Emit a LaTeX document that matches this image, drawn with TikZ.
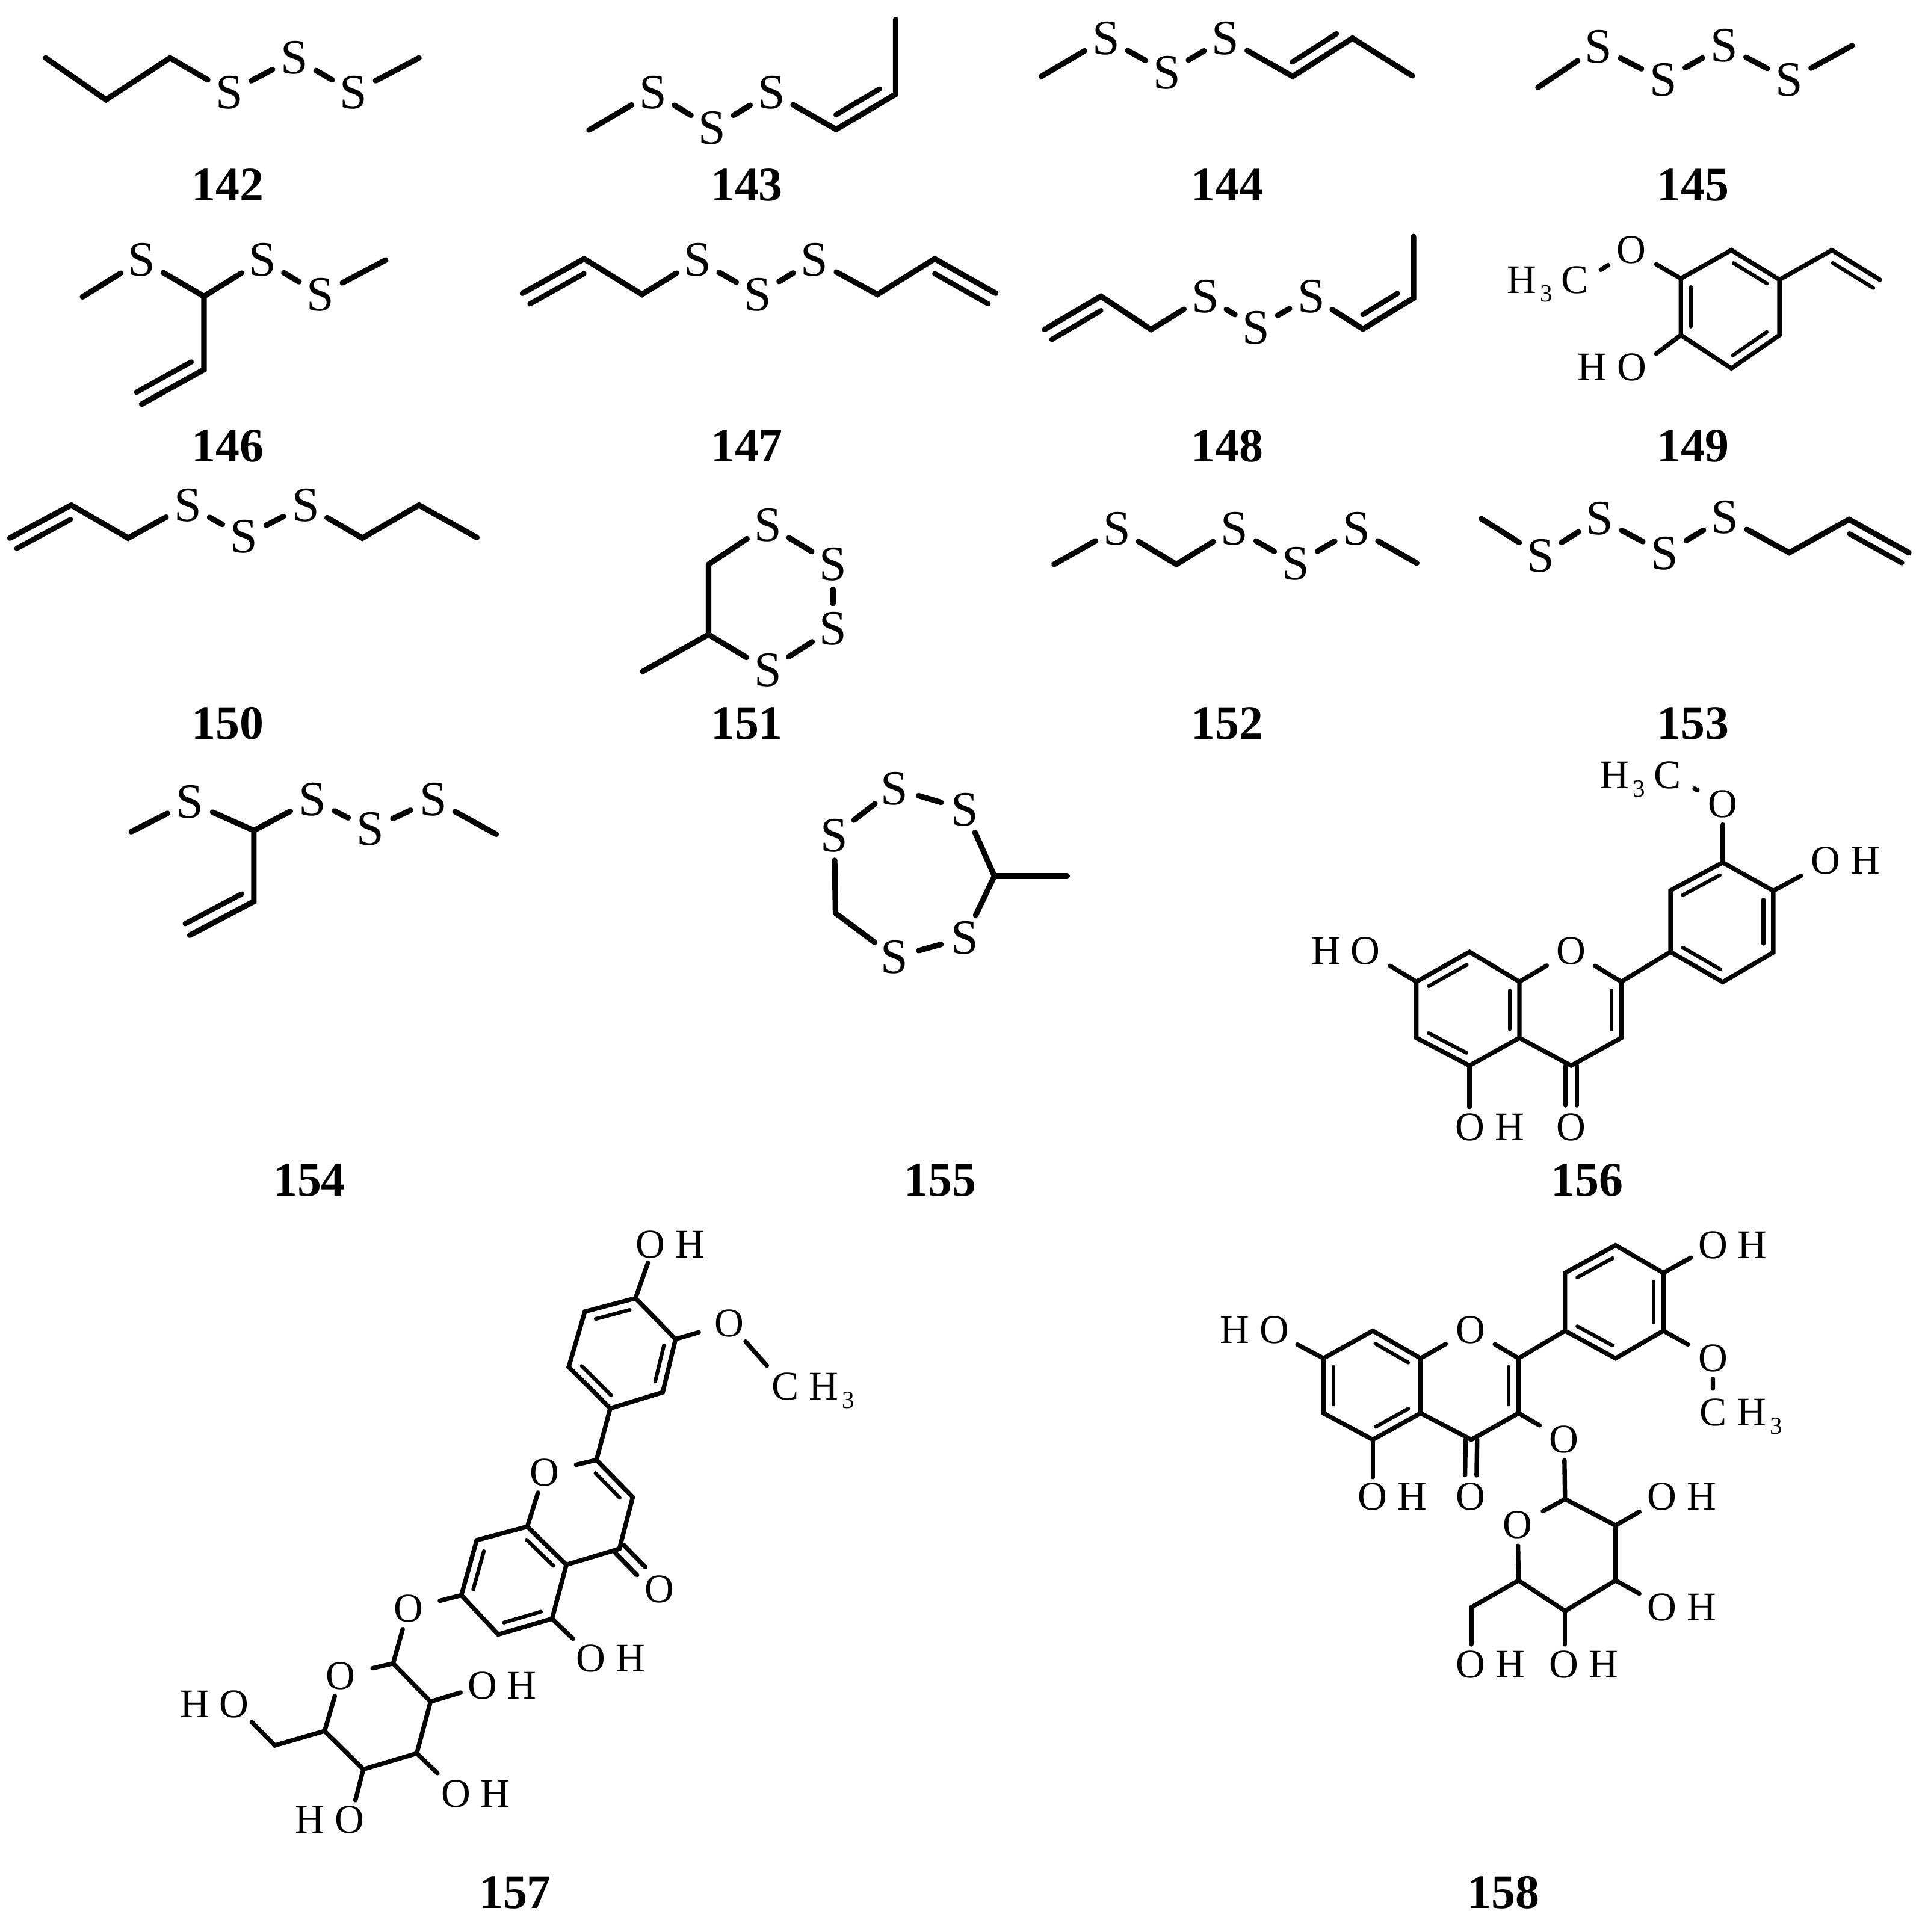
\documentclass[tikz,border=0pt]{standalone}
\usepackage{fontspec}
\setmainfont{Liberation Serif}
\usetikzlibrary{calc,shapes.geometric}
\tikzset{
  bond/.style={line width=4.5pt,line cap=round},
  ringbond/.style={line width=3.6pt,line cap=round},
  inchain/.style={line width=4.2pt,line cap=round,shorten <=6pt,shorten >=9pt},
  invinyl/.style={line width=4.2pt,line cap=round,shorten <=6pt,shorten >=1pt},
  inring/.style={line width=3pt,line cap=round,shorten <=7pt,shorten >=7pt},
  sulfur/.style={circle,inner sep=0pt,minimum size=40pt,font=\fontsize{40}{44}\selectfont},
  oxygen/.style={ellipse,inner sep=0pt,minimum width=55pt,minimum height=33pt,font=\fontsize{33}{36}\selectfont},
  group/.style={inner sep=0pt,font=\fontsize{33}{36}\selectfont},
  num/.style={inner sep=0pt,font=\fontsize{39}{42}\selectfont\bfseries}
}
\newcommand{\inbond}[4][inring]{\draw[#1] ($(#2)!#4pt!90:(#3)$) -- ($(#3)!#4pt!-90:(#2)$);}
\newcommand{\subtri}{\kern3pt\raisebox{-7pt}{\fontsize{20}{20}\selectfont 3}}
\begin{document}
\begin{tikzpicture}[x=1pt,y=-1pt]
    \useasboundingbox (0,0) rectangle (1561.7,1568);
    % 142
    \coordinate (c142a) at (37,47);
    \coordinate (c142b) at (86,81);
    \coordinate (c142c) at (138,47);
    \coordinate (c142d) at (340,47);
    \node[sulfur] (s142a) at (186,75) {S};
    \node[sulfur] (s142b) at (239,47) {S};
    \node[sulfur] (s142c) at (287,75) {S};
    \draw[bond] (c142a)--(c142b)--(c142c)--(s142a)--(s142b)--(s142c)--(c142d);
    \node[num] (n142) at (185,150) {142};
    % 143
    \coordinate (c143a) at (478,105.5);
    \coordinate (c143b) at (678.5,105);
    \coordinate (c143c) at (726.8,76.5);
    \coordinate (c143d) at (726.8,16);
    \node[sulfur] (s143a) at (530,75) {S};
    \node[sulfur] (s143b) at (578,104) {S};
    \node[sulfur] (s143c) at (626,75) {S};
    \draw[bond] (c143a)--(s143a)--(s143b)--(s143c)--(c143b)--(c143c)--(c143d);
    \inbond[inchain]{c143b}{c143c}{10.3}
    \node[num] (n143) at (606,150) {143};
    % 144
    \coordinate (c144a) at (845,62);
    \coordinate (c144b) at (1049,62);
    \coordinate (c144c) at (1097.5,31);
    \coordinate (c144d) at (1146,61.5);
    \node[sulfur] (s144a) at (897.5,31) {S};
    \node[sulfur] (s144b) at (947,59) {S};
    \node[sulfur] (s144c) at (994.5,31) {S};
    \draw[bond] (c144a)--(s144a)--(s144b)--(s144c)--(c144b)--(c144c)--(c144d);
    \inbond[inchain]{c144b}{c144c}{10}
    \node[num] (n144) at (996,150) {144};
    % 145
    \coordinate (c145a) at (1248,71);
    \coordinate (c145b) at (1503,37);
    \node[sulfur] (s145a) at (1297,38) {S};
    \node[sulfur] (s145b) at (1350,65) {S};
    \node[sulfur] (s145c) at (1399,37) {S};
    \node[sulfur] (s145d) at (1452,65) {S};
    \draw[bond] (c145a)--(s145a)--(s145b)--(s145c)--(s145d)--(c145b);
    \node[num] (n145) at (1374,150) {145};
    % 146
    \coordinate (c146a) at (67,241);
    \coordinate (c146b) at (165.5,240.5);
    \coordinate (c146c) at (313,211);
    \coordinate (c146d) at (165.5,300);
    \coordinate (c146e) at (115,328);
    \node[sulfur] (s146a) at (115,211) {S};
    \node[sulfur] (s146b) at (213,211) {S};
    \node[sulfur] (s146c) at (260,239) {S};
    \draw[bond] (c146a)--(s146a)--(c146b)--(s146b)--(s146c)--(c146c);
    \draw[bond] (c146b)--(c146d)--(c146e);
    \inbond[invinyl]{c146d}{c146e}{-10.5}
    \node[num] (n146) at (185,362) {146};
    % 147
    \coordinate (c147a) at (424,238);
    \coordinate (c147b) at (474,210);
    \coordinate (c147c) at (521,239);
    \coordinate (c147d) at (712,239);
    \coordinate (c147e) at (758.5,210);
    \coordinate (c147f) at (808,238);
    \node[sulfur] (s147a) at (566,211) {S};
    \node[sulfur] (s147b) at (615,239) {S};
    \node[sulfur] (s147c) at (661,211) {S};
    \draw[bond] (c147a)--(c147b)--(c147c)--(s147a)--(s147b)--(s147c)--(c147d)--(c147e)--(c147f);
    \inbond[invinyl]{c147b}{c147a}{10.5}
    \inbond[invinyl]{c147e}{c147f}{-10.5}
    \node[num] (n147) at (606,362) {147};
    % 148
    \coordinate (c148a) at (847.6,267.4);
    \coordinate (c148b) at (893.4,240.5);
    \coordinate (c148c) at (934,267.4);
    \coordinate (c148d) at (1106,267);
    \coordinate (c148e) at (1147,242);
    \coordinate (c148f) at (1147,192);
    \node[sulfur] (s148a) at (978,240.5) {S};
    \node[sulfur] (s148b) at (1019.3,266) {S};
    \node[sulfur] (s148c) at (1064,240.5) {S};
    \draw[bond] (c148a)--(c148b)--(c148c)--(s148a)--(s148b)--(s148c)--(c148d)--(c148e)--(c148f);
    \inbond[invinyl]{c148b}{c148a}{10}
    \inbond[inchain]{c148d}{c148e}{10}
    \node[num] (n148) at (996,362) {148};
    % 149
    \coordinate (c149a) at (1364,226);
    \coordinate (c149b) at (1405,203);
    \coordinate (c149c) at (1444,227);
    \coordinate (c149d) at (1444,272);
    \coordinate (c149e) at (1405,299);
    \coordinate (c149f) at (1364,272);
    \coordinate (c149g) at (1486.6,203);
    \coordinate (c149h) at (1525.5,227);
    \coordinate (e149a) at (1299,219);
    \coordinate (e149b) at (1344,287);
    \node[oxygen] (o149a) at (1324,203) {O};
    \node[group,anchor=base west] (me149a) at (1223,238) {H\subtri\kern7pt C};
    \node[group] (oh149a) at (1308,298) {H O};
    \draw[ringbond] (c149a)--(c149b)--(c149c)--(c149d)--(c149e)--(c149f)--cycle;
    \draw[ringbond] (c149c)--(c149g)--(c149h);
    \draw[ringbond] (e149a)--(o149a)--(c149a);
    \draw[ringbond] (c149f)--(e149b);
    \inbond{c149b}{c149c}{-8}
    \inbond{c149d}{c149e}{-8}
    \inbond{c149f}{c149a}{-8}
    \inbond[invinyl,line width=3pt]{c149g}{c149h}{-8.5}
    \node[num] (n149) at (1374,362) {149};
    % 150
    \coordinate (c150a) at (8,436.7);
    \coordinate (c150b) at (57.8,410);
    \coordinate (c150c) at (104,436.7);
    \coordinate (c150d) at (294,436.7);
    \coordinate (c150e) at (340,410);
    \coordinate (c150f) at (387,436.3);
    \node[sulfur] (s150a) at (152.5,410) {S};
    \node[sulfur] (s150b) at (198,435.6) {S};
    \node[sulfur] (s150c) at (248,410) {S};
    \draw[bond] (c150a)--(c150b)--(c150c)--(s150a)--(s150b)--(s150c)--(c150d)--(c150e)--(c150f);
    \inbond[invinyl]{c150b}{c150a}{10}
    \node[num] (n150) at (185,587) {150};
    % 151
    \coordinate (c151a) at (575,458);
    \coordinate (c151b) at (575,515);
    \coordinate (c151c) at (521.5,545);
    \node[sulfur] (s151a) at (623,426) {S};
    \node[sulfur] (s151b) at (676,458) {S};
    \node[sulfur] (s151c) at (676,510) {S};
    \node[sulfur] (s151d) at (623,544) {S};
    \draw[bond] (c151a)--(s151a)--(s151b)--(s151c)--(s151d)--(c151b)--(c151a);
    \draw[bond] (c151b)--(c151c);
    \node[num] (n151) at (606,587) {151};
    % 152
    \coordinate (c152a) at (855.4,458);
    \coordinate (c152b) at (954.6,458);
    \coordinate (c152c) at (1149.7,457);
    \node[sulfur] (s152a) at (906.6,429) {S};
    \node[sulfur] (s152b) at (1001.8,429) {S};
    \node[sulfur] (s152c) at (1051.6,457.5) {S};
    \node[sulfur] (s152d) at (1100.6,429) {S};
    \draw[bond] (c152a)--(s152a)--(c152b)--(s152b)--(s152c)--(s152d)--(c152c);
    \node[num] (n152) at (996,587) {152};
    % 153
    \coordinate (c153a) at (1202,421);
    \coordinate (c153b) at (1452,448.5);
    \coordinate (c153c) at (1500.5,421.6);
    \coordinate (c153d) at (1549,448.5);
    \node[sulfur] (s153a) at (1250,451) {S};
    \node[sulfur] (s153b) at (1298,421) {S};
    \node[sulfur] (s153c) at (1351,449) {S};
    \node[sulfur] (s153d) at (1399.7,420) {S};
    \draw[bond] (c153a)--(s153a)--(s153b)--(s153c)--(s153d)--(c153b)--(c153c)--(c153d);
    \inbond[invinyl]{c153c}{c153d}{-10}
    \node[num] (n153) at (1374,587) {153};
    % 154
    \coordinate (c154a) at (106.5,675);
    \coordinate (c154b) at (206,674);
    \coordinate (c154c) at (402.6,677);
    \coordinate (c154d) at (206,731.6);
    \coordinate (c154e) at (154,759);
    \node[sulfur] (s154a) at (154,651) {S};
    \node[sulfur] (s154b) at (253.5,649) {S};
    \node[sulfur] (s154c) at (300.5,673) {S};
    \node[sulfur] (s154d) at (351.5,649) {S};
    \draw[bond] (c154a)--(s154a)--(c154b)--(s154b)--(s154c)--(s154d)--(c154c);
    \draw[bond] (c154b)--(c154d)--(c154e);
    \inbond[invinyl]{c154d}{c154e}{-10}
    \node[num] (n154) at (251,958) {154};
    % 155
    \coordinate (c155a) at (678,741);
    \coordinate (c155b) at (807,711);
    \coordinate (c155c) at (866,711);
    \node[sulfur] (s155a) at (677,678) {S};
    \node[sulfur] (s155b) at (726,640) {S};
    \node[sulfur] (s155c) at (783,657) {S};
    \node[sulfur] (s155d) at (783,761) {S};
    \node[sulfur] (s155e) at (726,777) {S};
    \draw[bond] (c155a)--(s155a)--(s155b)--(s155c)--(c155b)--(s155d)--(s155e)--(c155a);
    \draw[bond] (c155b)--(c155c);
    \node[num] (n155) at (763,958) {155};
    % 156
    \coordinate (c156a) at (1398,700);
    \coordinate (c156b) at (1439,723);
    \coordinate (c156c) at (1439,773);
    \coordinate (c156d) at (1398,797);
    \coordinate (c156e) at (1355.6,772.6);
    \coordinate (c156f) at (1355.6,722.7);
    \coordinate (c156g) at (1315.6,796.7);
    \coordinate (c156h) at (1315.6,842.3);
    \coordinate (c156i) at (1275,864.8);
    \coordinate (c156j) at (1233,842.3);
    \coordinate (c156k) at (1233,796.7);
    \coordinate (c156l) at (1192.5,772.6);
    \coordinate (c156m) at (1149.4,796.7);
    \coordinate (c156n) at (1149.4,842.3);
    \coordinate (c156p) at (1192.5,864.8);
    \coordinate (e156a) at (1375,640);
    \coordinate (e156b) at (1461.6,710.8);
    \coordinate (e156c) at (1128,783.8);
    \coordinate (e156d) at (1192.5,898.4);
    \node[oxygen] (o156a) at (1398,652.5) {O};
    \node[oxygen] (o156b) at (1275,772) {O};
    \node[oxygen] (o156c) at (1275,914.6) {O};
    \node[group,anchor=base west] (me156a) at (1298,640) {H\subtri\kern7pt C};
    \node[group] (oh156a) at (1497.6,698.6) {O H};
    \node[group] (oh156b) at (1092,772) {H O};
    \node[group] (oh156c) at (1209,914.6) {O H};
    \draw[ringbond] (c156a)--(c156b)--(c156c)--(c156d)--(c156e)--(c156f)--cycle;
    \draw[ringbond] (c156k)--(c156l)--(c156m)--(c156n)--(c156p)--(c156j)--cycle;
    \draw[ringbond] (c156e)--(c156g)--(c156h)--(c156i)--(c156j);
    \draw[ringbond] (c156k)--(o156b)--(c156g);
    \draw[ringbond] (e156a)--(o156a)--(c156a);
    \draw[ringbond] (c156b)--(e156b);
    \draw[ringbond] (c156m)--(e156c);
    \draw[ringbond] (c156p)--(e156d);
    \inbond{c156b}{c156c}{-8}
    \inbond{c156d}{c156e}{-8}
    \inbond{c156f}{c156a}{-8}
    \inbond{c156g}{c156h}{-8}
    \inbond{c156k}{c156j}{-8}
    \inbond{c156m}{c156l}{-8}
    \inbond{c156p}{c156n}{-8}
    \inbond[ringbond,shorten >=17.5pt]{c156i}{o156c}{4.7}
    \inbond[ringbond,shorten >=17.5pt]{c156i}{o156c}{-4.7}
    \node[num] (n156) at (1288,958) {156};
    % 157
    \coordinate (c157a) at (515.7,1053.6);
    \coordinate (c157b) at (548.2,1086.8);
    \coordinate (c157c) at (537.8,1130);
    \coordinate (c157d) at (495.2,1143);
    \coordinate (c157e) at (461.5,1109.4);
    \coordinate (c157f) at (474.6,1064.5);
    \coordinate (c157g) at (484,1184.9);
    \coordinate (c157h) at (513.5,1215);
    \coordinate (c157i) at (502.6,1257);
    \coordinate (c157j) at (459.6,1269.9);
    \coordinate (c157k) at (427.9,1239);
    \coordinate (c157l) at (386.8,1250);
    \coordinate (c157m) at (374.4,1294.7);
    \coordinate (c157n) at (404.3,1326.5);
    \coordinate (c157p) at (448,1313.7);
    \coordinate (c157q) at (319,1350);
    \coordinate (c157r) at (349.4,1381);
    \coordinate (c157s) at (338.2,1423);
    \coordinate (c157t) at (294.8,1435.9);
    \coordinate (c157u) at (263.4,1404.9);
    \coordinate (c157v) at (223,1416.6);
    \coordinate (e157a) at (525.8,1024.8);
    \coordinate (e157b) at (622.3,1108.3);
    \coordinate (e157c) at (465,1330);
    \coordinate (e157d) at (373.7,1373.6);
    \coordinate (e157e) at (355,1439);
    \coordinate (e157f) at (288.4,1461);
    \coordinate (e157g) at (204.3,1397.6);
    \node[oxygen] (o157a) at (592,1074) {O};
    \node[oxygen] (o157b) at (441.7,1195) {O};
    \node[oxygen] (o157c) at (535,1290) {O};
    \node[oxygen] (o157d) at (331.4,1305.7) {O};
    \node[oxygen] (o157e) at (276.5,1360) {O};
    \node[group] (oh157a) at (544,1010) {O H};
    \node[group,anchor=base west] (me157a) at (626,1136) {C H\subtri};
    \node[group] (oh157b) at (495.6,1345.8) {O H};
    \node[group] (oh157c) at (407.5,1368) {O H};
    \node[group] (oh157d) at (386,1456) {O H};
    \node[group] (oh157e) at (267.5,1477) {H O};
    \node[group] (oh157f) at (174,1383) {H O};
    \draw[ringbond] (c157a)--(c157b)--(c157c)--(c157d)--(c157e)--(c157f)--cycle;
    \draw[ringbond] (c157k)--(c157j)--(c157p)--(c157n)--(c157m)--(c157l)--cycle;
    \draw[ringbond] (c157d)--(c157g)--(c157h)--(c157i)--(c157j);
    \draw[ringbond] (c157k)--(o157b)--(c157g);
    \draw[ringbond] (c157a)--(e157a);
    \draw[ringbond] (c157b)--(o157a)--(e157b);
    \draw[ringbond] (c157p)--(e157c);
    \draw[ringbond] (c157m)--(o157d)--(c157q)--(c157r)--(c157s)--(c157t)--(c157u)--(c157v)--(e157g);
    \draw[ringbond] (c157q)--(o157e)--(c157u);
    \draw[ringbond] (c157r)--(e157d);
    \draw[ringbond] (c157s)--(e157e);
    \draw[ringbond] (c157t)--(e157f);
    \inbond{c157b}{c157c}{-8}
    \inbond{c157d}{c157e}{-8}
    \inbond{c157f}{c157a}{-8}
    \inbond{c157g}{c157h}{-8}
    \inbond{c157k}{c157j}{-8}
    \inbond{c157p}{c157n}{-8}
    \inbond{c157m}{c157l}{-8}
    \inbond[ringbond,shorten >=21pt]{c157i}{o157c}{4.7}
    \inbond[ringbond,shorten >=21pt]{c157i}{o157c}{-4.7}
    \node[num] (n157) at (418,1536) {157};
    % 158
    \coordinate (c158a) at (1270,1080);
    \coordinate (c158b) at (1311,1102.4);
    \coordinate (c158c) at (1349.8,1080);
    \coordinate (c158d) at (1349.8,1033);
    \coordinate (c158e) at (1311,1010.7);
    \coordinate (c158f) at (1270,1033);
    \coordinate (c158g) at (1232.3,1102.4);
    \coordinate (c158h) at (1232.3,1146.9);
    \coordinate (c158i) at (1194,1168.4);
    \coordinate (c158j) at (1152.8,1146.9);
    \coordinate (c158k) at (1152.8,1102.4);
    \coordinate (c158l) at (1114,1080);
    \coordinate (c158m) at (1074,1102.4);
    \coordinate (c158n) at (1074,1146.9);
    \coordinate (c158p) at (1114,1168.4);
    \coordinate (c158q) at (1270,1216.6);
    \coordinate (c158r) at (1311,1238);
    \coordinate (c158s) at (1311,1282.7);
    \coordinate (c158t) at (1270,1307.5);
    \coordinate (c158u) at (1232.3,1282.7);
    \coordinate (c158v) at (1194,1304.5);
    \coordinate (e158a) at (1052.8,1091.2);
    \coordinate (e158b) at (1114,1198.8);
    \coordinate (e158c) at (1372,1020.7);
    \coordinate (e158d) at (1390,1127);
    \coordinate (e158e) at (1330.3,1227);
    \coordinate (e158f) at (1330.3,1293.4);
    \coordinate (e158g) at (1270,1334.6);
    \coordinate (e158h) at (1194,1334.6);
    \node[oxygen] (o158a) at (1193.3,1079.3) {O};
    \node[oxygen] (o158b) at (1193.3,1214.8) {O};
    \node[oxygen] (o158c) at (1390,1102.4) {O};
    \node[oxygen] (o158d) at (1269.3,1168.4) {O};
    \node[oxygen] (o158e) at (1231.6,1237.8) {O};
    \node[group] (oh158a) at (1018,1079.3) {H O};
    \node[group] (oh158b) at (1130,1214.8) {O H};
    \node[group] (oh158c) at (1406,1010.7) {O H};
    \node[group,anchor=base west] (me158a) at (1379,1157) {C H\subtri};
    \node[group] (oh158d) at (1364.8,1214.8) {O H};
    \node[group] (oh158e) at (1364.8,1304.5) {O H};
    \node[group] (oh158f) at (1285.2,1350.9) {O H};
    \node[group] (oh158g) at (1209.4,1350.9) {O H};
    \draw[ringbond] (c158a)--(c158b)--(c158c)--(c158d)--(c158e)--(c158f)--cycle;
    \draw[ringbond] (c158k)--(c158l)--(c158m)--(c158n)--(c158p)--(c158j)--cycle;
    \draw[ringbond] (c158a)--(c158g)--(c158h)--(c158i)--(c158j);
    \draw[ringbond] (c158k)--(o158a)--(c158g);
    \draw[ringbond] (c158m)--(e158a);
    \draw[ringbond] (c158p)--(e158b);
    \draw[ringbond] (c158d)--(e158c);
    \draw[ringbond] (c158c)--(o158c)--(e158d);
    \draw[ringbond] (c158h)--(o158d)--(c158q)--(c158r)--(c158s)--(c158t)--(c158u)--(c158v)--(e158h);
    \draw[ringbond] (c158q)--(o158e)--(c158u);
    \draw[ringbond] (c158r)--(e158e);
    \draw[ringbond] (c158s)--(e158f);
    \draw[ringbond] (c158t)--(e158g);
    \inbond{c158a}{c158b}{8}
    \inbond{c158c}{c158d}{8}
    \inbond{c158e}{c158f}{8}
    \inbond{c158g}{c158h}{-8}
    \inbond{c158l}{c158k}{-8}
    \inbond{c158j}{c158p}{-8}
    \inbond{c158n}{c158m}{-8}
    \inbond[ringbond,shorten >=17.5pt]{c158i}{o158b}{4.7}
    \inbond[ringbond,shorten >=17.5pt]{c158i}{o158b}{-4.7}
    \node[num] (n158) at (1220,1536) {158};
\end{tikzpicture}
\end{document}
